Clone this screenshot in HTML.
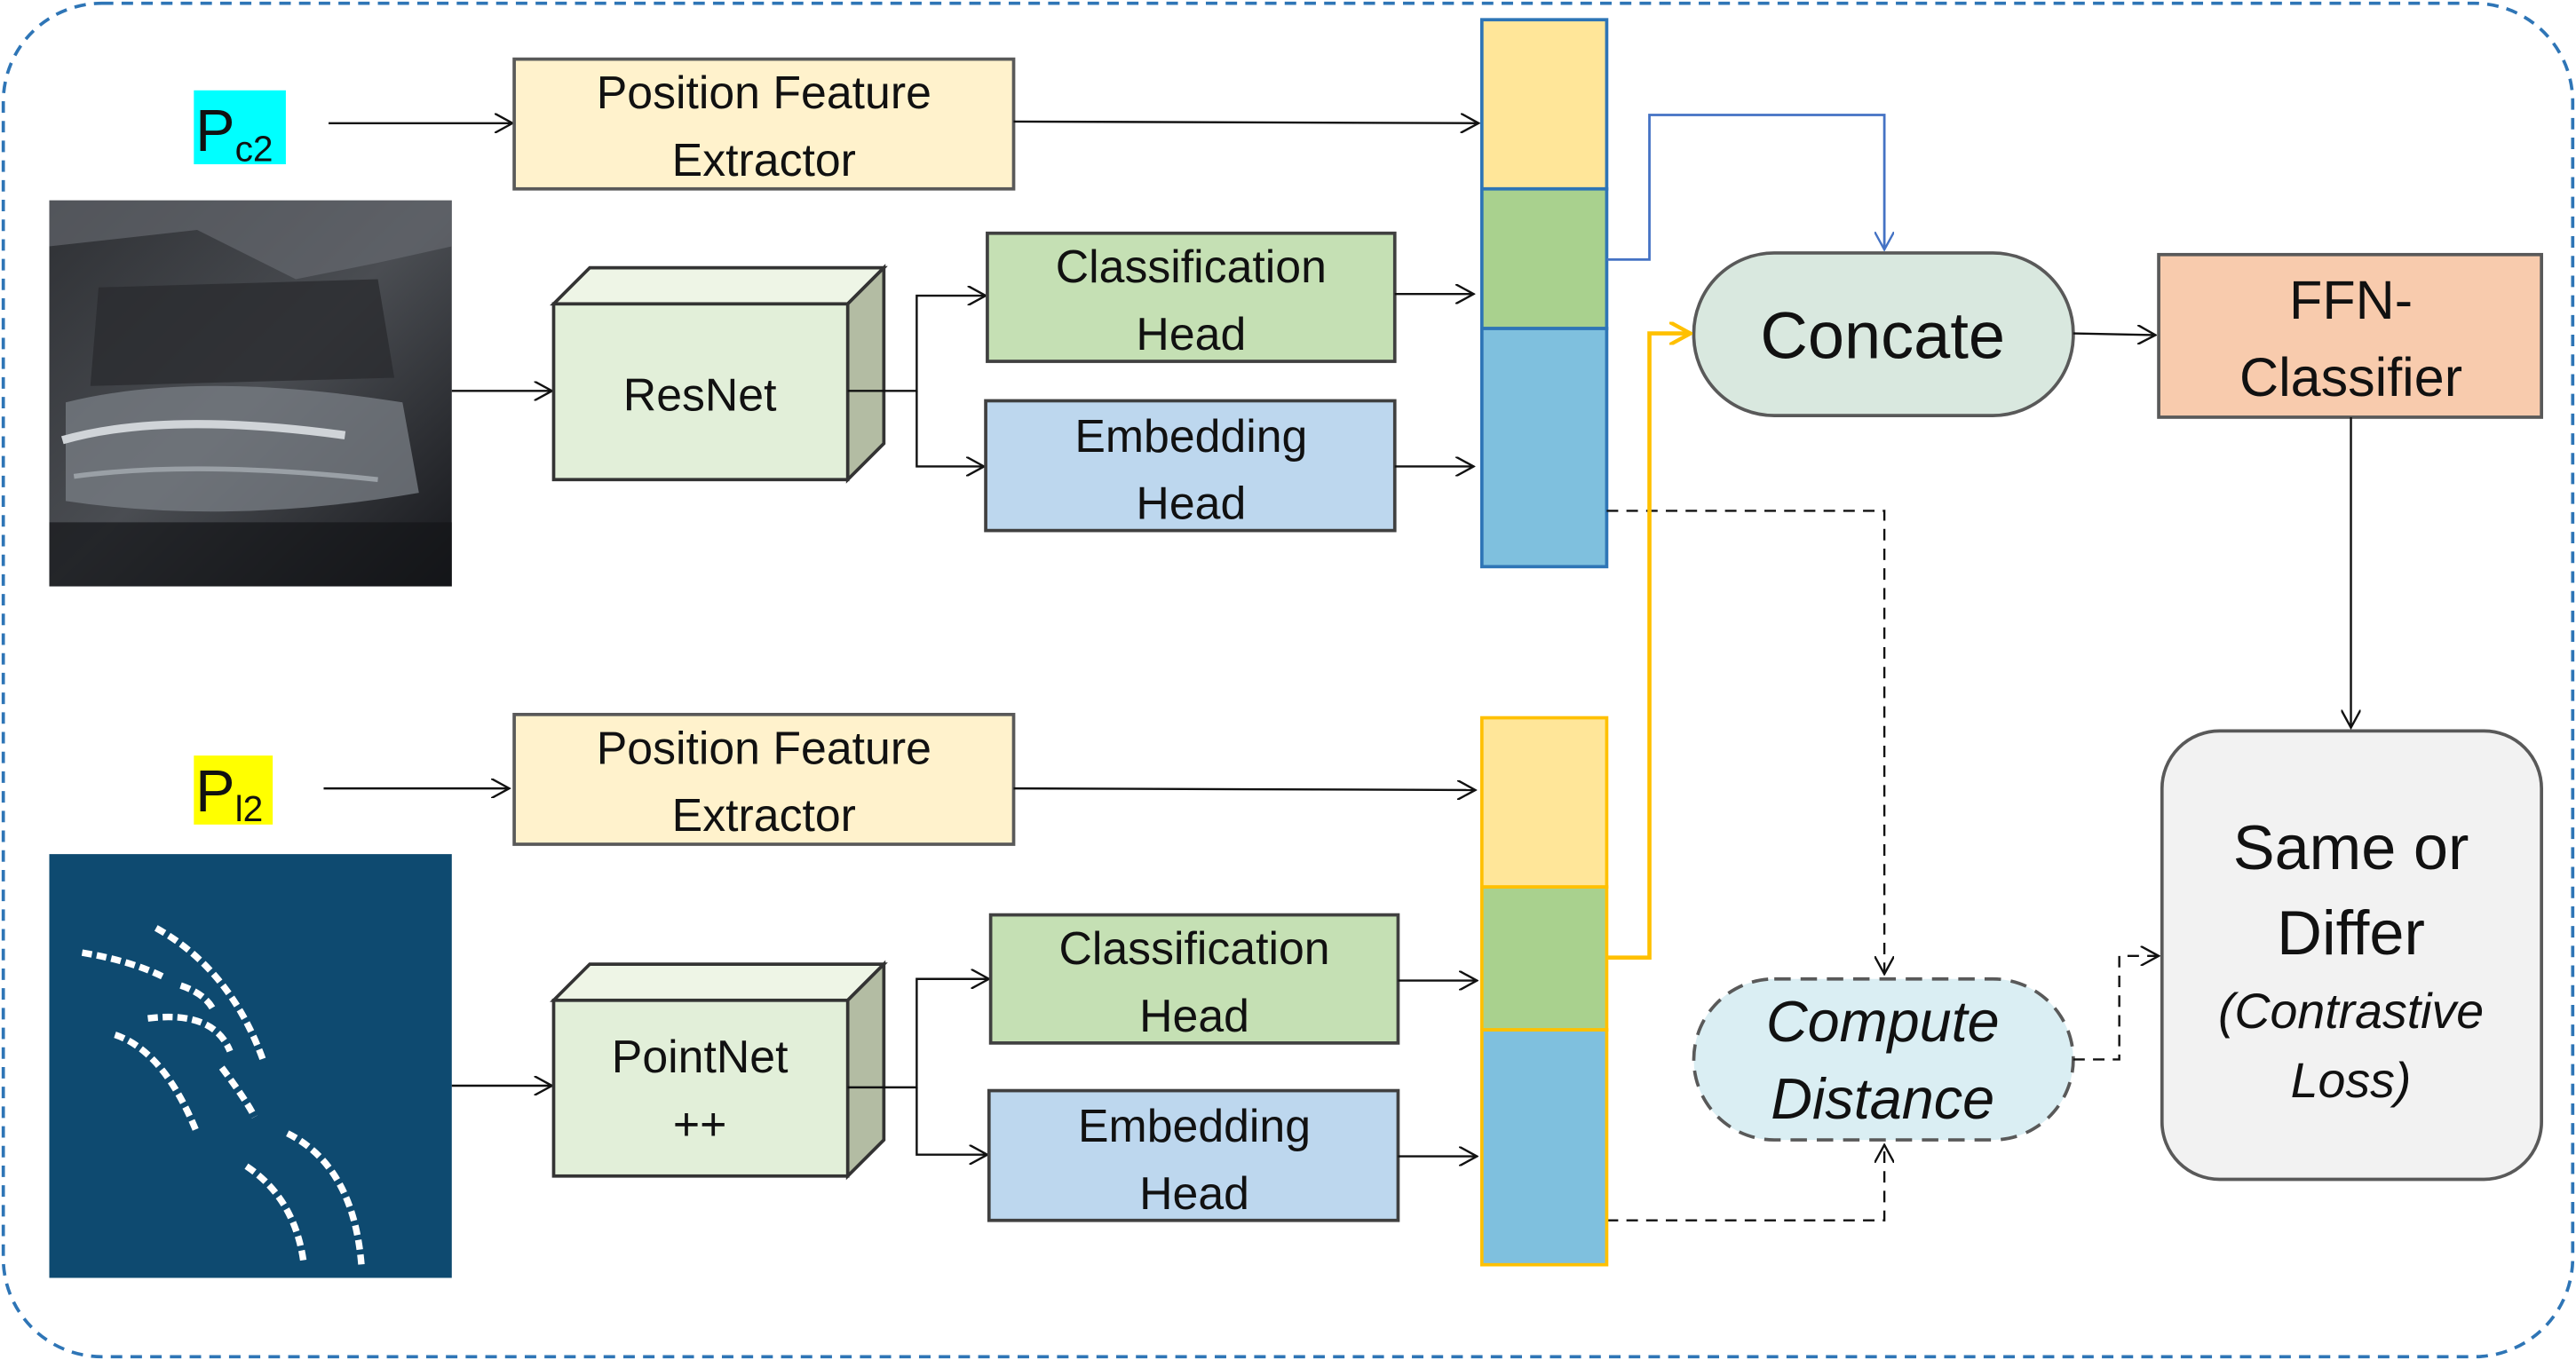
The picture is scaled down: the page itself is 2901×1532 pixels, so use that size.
<!DOCTYPE html>
<html><head><meta charset="utf-8"><style>
html,body{margin:0;padding:0;background:#fff;}
svg{display:block;}
text{font-family:"Liberation Sans",sans-serif;fill:#111;}
</style></head><body>
<svg width="2901" height="1532" viewBox="0 0 1568 828" preserveAspectRatio="none" xmlns="http://www.w3.org/2000/svg">
<defs>
<marker id="a" viewBox="0 0 12 12" refX="11" refY="6" markerWidth="12" markerHeight="12" markerUnits="userSpaceOnUse" orient="auto"><path d="M0,0 L11,6 L0,12" fill="none" stroke="#111" stroke-width="1.3"/></marker>
<marker id="ab" viewBox="0 0 12 12" refX="11" refY="6" markerWidth="12" markerHeight="12" markerUnits="userSpaceOnUse" orient="auto"><path d="M0,0 L11,6 L0,12" fill="none" stroke="#4472c4" stroke-width="1.3"/></marker>
<marker id="ay" viewBox="0 0 12 12" refX="11" refY="6" markerWidth="14" markerHeight="14" markerUnits="userSpaceOnUse" orient="auto"><path d="M0,0 L11,6 L0,12" fill="none" stroke="#ffc000" stroke-width="2"/></marker>
<linearGradient id="car" x1="0" y1="0" x2="1" y2="1"><stop offset="0" stop-color="#2e3034"/><stop offset="0.5" stop-color="#4a4d52"/><stop offset="1" stop-color="#15161a"/></linearGradient>
</defs>
<rect x="2" y="2" width="1564" height="824" rx="60" fill="#fff" stroke="#2e75b6" stroke-width="2" stroke-dasharray="7,5"/>

<rect x="118" y="55" width="56" height="45" fill="#00ffff"/>
<text x="119" y="92" font-size="36">P<tspan font-size="22" dy="6">c2</tspan></text>
<line x1="200" y1="75" x2="312" y2="75" stroke="#111" stroke-width="1.3" marker-end="url(#a)"/>
<rect x="313" y="36" width="304" height="79" fill="#fff2cc" stroke="#595959" stroke-width="2"/>
<text x="465" y="66" font-size="28" text-anchor="middle">Position Feature</text>
<text x="465" y="107" font-size="28" text-anchor="middle">Extractor</text>
<line x1="617" y1="74" x2="900" y2="75" stroke="#111" stroke-width="1.3" marker-end="url(#a)"/>

<rect x="30" y="122" width="245" height="235" fill="url(#car)"/>
<path d="M30,150 L120,140 L180,170 L230,160 L275,150 L275,122 L30,122 Z" fill="#6a6e74" opacity="0.6"/>
<path d="M60,175 L230,170 L240,230 L55,235 Z" fill="#2a2c30" opacity="0.8"/>
<path d="M40,245 Q120,225 245,245 L255,300 Q140,320 40,305 Z" fill="#7a7f86" opacity="0.75"/>
<path d="M38,268 Q100,250 210,265" stroke="#d0d4d8" stroke-width="5" fill="none"/>
<path d="M45,290 Q120,280 230,292" stroke="#9aa0a6" stroke-width="3" fill="none"/>
<rect x="30" y="318" width="245" height="39" fill="#141518" opacity="0.7"/>
<line x1="275" y1="238" x2="336" y2="238" stroke="#111" stroke-width="1.3" marker-end="url(#a)"/>

<polygon points="337,185 359,163 538,163 516,185" fill="#eef5e6" stroke="#333" stroke-width="2"/>
<polygon points="516,185 538,163 538,270 516,292" fill="#b3bca3" stroke="#333" stroke-width="2"/>
<rect x="337" y="185" width="179" height="107" fill="#e2efd9" stroke="#333" stroke-width="2"/>
<text x="426" y="250" font-size="28" text-anchor="middle">ResNet</text>
<polyline points="516,238 558,238 558,180 600,180" fill="none" stroke="#111" stroke-width="1.3" marker-end="url(#a)"/>
<polyline points="558,238 558,284 599,284" fill="none" stroke="#111" stroke-width="1.3" marker-end="url(#a)"/>
<rect x="601" y="142" width="248" height="78" fill="#c5e0b4" stroke="#404040" stroke-width="2"/>
<text x="725" y="172" font-size="28" text-anchor="middle">Classification</text>
<text x="725" y="213" font-size="28" text-anchor="middle">Head</text>
<rect x="600" y="244" width="249" height="79" fill="#bdd7ee" stroke="#404040" stroke-width="2"/>
<text x="725" y="275" font-size="28" text-anchor="middle">Embedding</text>
<text x="725" y="316" font-size="28" text-anchor="middle">Head</text>
<line x1="849" y1="179" x2="897" y2="179" stroke="#111" stroke-width="1.3" marker-end="url(#a)"/>
<line x1="849" y1="284" x2="897" y2="284" stroke="#111" stroke-width="1.3" marker-end="url(#a)"/>

<rect x="902" y="12" width="76" height="103" fill="#ffe699" stroke="#2e75b6" stroke-width="2"/>
<rect x="902" y="115" width="76" height="85" fill="#a9d18e" stroke="#2e75b6" stroke-width="2"/>
<rect x="902" y="200" width="76" height="145" fill="#7fc0de" stroke="#2e75b6" stroke-width="2"/>

<polyline points="978,158 1004,158 1004,70 1147,70 1147,152" fill="none" stroke="#4472c4" stroke-width="1.5" marker-end="url(#ab)"/>
<rect x="1031" y="154" width="231" height="99" rx="49" fill="#d9e8df" stroke="#595959" stroke-width="2"/>
<text x="1146" y="218" font-size="40" text-anchor="middle">Concate</text>
<line x1="1262" y1="203" x2="1312" y2="204" stroke="#111" stroke-width="1.3" marker-end="url(#a)"/>
<rect x="1314" y="155" width="233" height="99" fill="#f8cbad" stroke="#595959" stroke-width="2"/>
<text x="1431" y="194" font-size="33" text-anchor="middle">FFN-</text>
<text x="1431" y="241" font-size="33" text-anchor="middle">Classifier</text>
<line x1="1431" y1="254" x2="1431" y2="443" stroke="#111" stroke-width="1.3" marker-end="url(#a)"/>
<rect x="1316" y="445" width="231" height="273" rx="35" fill="#f2f2f2" stroke="#595959" stroke-width="2"/>
<text x="1431" y="529" font-size="38" text-anchor="middle">Same or</text>
<text x="1431" y="581" font-size="38" text-anchor="middle">Differ</text>
<text x="1431" y="626" font-size="30" font-style="italic" text-anchor="middle">(Contrastive</text>
<text x="1431" y="668" font-size="30" font-style="italic" text-anchor="middle">Loss)</text>

<polyline points="978,311 1147,311 1147,593" fill="none" stroke="#111" stroke-width="1.3" stroke-dasharray="7,5" marker-end="url(#a)"/>
<rect x="1031" y="596" width="231" height="98" rx="49" fill="#daeef3" stroke="#595959" stroke-width="2" stroke-dasharray="10,6"/>
<text x="1146" y="634" font-size="35" font-style="italic" text-anchor="middle">Compute</text>
<text x="1146" y="681" font-size="35" font-style="italic" text-anchor="middle">Distance</text>
<polyline points="1262,645 1290,645 1290,582 1314,582" fill="none" stroke="#111" stroke-width="1.3" stroke-dasharray="7,5" marker-end="url(#a)"/>
<polyline points="978,743 1147,743 1147,697" fill="none" stroke="#111" stroke-width="1.3" stroke-dasharray="7,5" marker-end="url(#a)"/>

<rect x="118" y="460" width="48" height="42" fill="#ffff00"/>
<text x="119" y="494" font-size="36">P<tspan font-size="22" dy="6">l2</tspan></text>
<line x1="197" y1="480" x2="310" y2="480" stroke="#111" stroke-width="1.3" marker-end="url(#a)"/>
<rect x="313" y="435" width="304" height="79" fill="#fff2cc" stroke="#595959" stroke-width="2"/>
<text x="465" y="465" font-size="28" text-anchor="middle">Position Feature</text>
<text x="465" y="506" font-size="28" text-anchor="middle">Extractor</text>
<line x1="617" y1="480" x2="898" y2="481" stroke="#111" stroke-width="1.3" marker-end="url(#a)"/>

<rect x="30" y="520" width="245" height="258" fill="#0e4a70"/>
<g fill="none" stroke="#fff" stroke-width="4" stroke-dasharray="6,3">
<path d="M95,565 Q140,590 160,645"/>
<path d="M50,580 Q80,585 100,595"/>
<path d="M70,630 Q100,640 120,690"/>
<path d="M90,620 Q130,615 140,640"/>
<path d="M150,710 Q180,730 185,770"/>
<path d="M175,690 Q215,710 220,770"/>
<path d="M135,650 Q150,670 155,680"/>
<path d="M110,600 Q125,605 130,615"/>
</g>
<line x1="275" y1="661" x2="336" y2="661" stroke="#111" stroke-width="1.3" marker-end="url(#a)"/>

<polygon points="337,609 359,587 538,587 516,609" fill="#eef5e6" stroke="#333" stroke-width="2"/>
<polygon points="516,609 538,587 538,694 516,716" fill="#b3bca3" stroke="#333" stroke-width="2"/>
<rect x="337" y="609" width="179" height="107" fill="#e2efd9" stroke="#333" stroke-width="2"/>
<text x="426" y="653" font-size="28" text-anchor="middle">PointNet</text>
<text x="426" y="694" font-size="28" text-anchor="middle">++</text>
<polyline points="516,662 558,662 558,596 602,596" fill="none" stroke="#111" stroke-width="1.3" marker-end="url(#a)"/>
<polyline points="558,662 558,703 601,703" fill="none" stroke="#111" stroke-width="1.3" marker-end="url(#a)"/>
<rect x="603" y="557" width="248" height="78" fill="#c5e0b4" stroke="#404040" stroke-width="2"/>
<text x="727" y="587" font-size="28" text-anchor="middle">Classification</text>
<text x="727" y="628" font-size="28" text-anchor="middle">Head</text>
<rect x="602" y="664" width="249" height="79" fill="#bdd7ee" stroke="#404040" stroke-width="2"/>
<text x="727" y="695" font-size="28" text-anchor="middle">Embedding</text>
<text x="727" y="736" font-size="28" text-anchor="middle">Head</text>
<line x1="851" y1="597" x2="899" y2="597" stroke="#111" stroke-width="1.3" marker-end="url(#a)"/>
<line x1="851" y1="704" x2="899" y2="704" stroke="#111" stroke-width="1.3" marker-end="url(#a)"/>

<rect x="902" y="437" width="76" height="103" fill="#ffe699" stroke="#ffc000" stroke-width="2"/>
<rect x="902" y="540" width="76" height="87" fill="#a9d18e" stroke="#ffc000" stroke-width="2"/>
<rect x="902" y="627" width="76" height="143" fill="#7fc0de" stroke="#ffc000" stroke-width="2"/>
<polyline points="978,583 1004,583 1004,203 1029,203" fill="none" stroke="#ffc000" stroke-width="2.5" marker-end="url(#ay)"/>
</svg>
</body></html>
